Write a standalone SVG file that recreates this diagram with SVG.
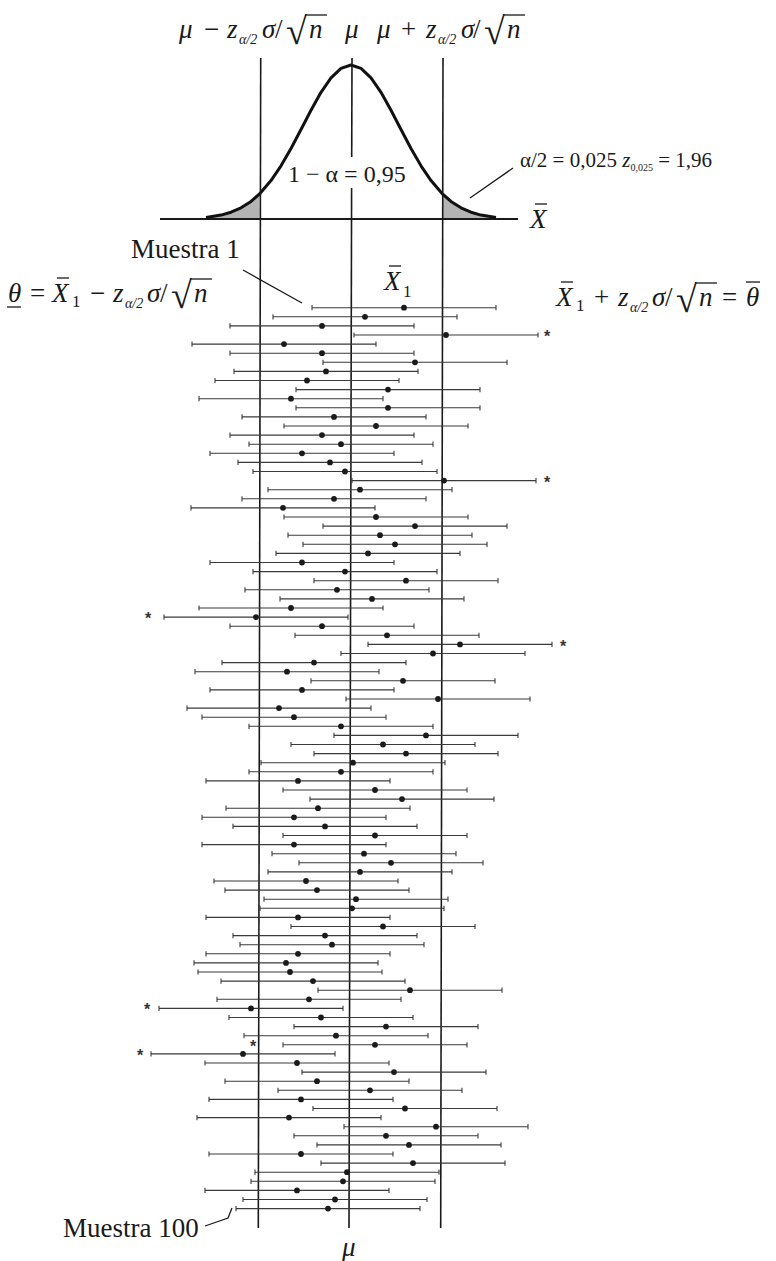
<svg xmlns="http://www.w3.org/2000/svg" xmlns:xlink="http://www.w3.org/1999/xlink" width="776" height="1261" viewBox="0 0 776 1261">
  <style>
    text { font-family: "Liberation Serif", "Times New Roman", serif; fill: #1a1a1a; }
    .m { font-size: 27px; }
    .i { font-style: italic; }
    .sub { font-size: 14px; font-style: italic; }
    .rad { font-size: 38px; font-style: normal; }
    .lbl { font-size: 27px; }
    .guide { stroke: #1a1a1a; stroke-width: 1.6; fill: none; }
    .thin { stroke: #1a1a1a; stroke-width: 1.3; fill: none; }
    .ci line { stroke: #3a3a3a; stroke-width: 1.1; }
    .ci circle { fill: #1a1a1a; }
    .star { font-size: 16px; font-family: "Liberation Sans", sans-serif; font-weight: bold; fill: #333; }
  </style>
  <defs>
    <!-- one confidence interval: bar of half-width z*sigma/sqrt(n), end ticks, sample mean dot -->
    <g id="ci" class="ci">
      <line x1="-92" y1="0" x2="92" y2="0"/>
      <line x1="-92" y1="-2.6" x2="-92" y2="2.6"/>
      <line x1="92" y1="-2.6" x2="92" y2="2.6"/>
      <circle cx="0" cy="0" r="2.9"/>
    </g>
  </defs>
  <rect width="776" height="1261" fill="#ffffff"/>

  <!-- sampling distribution of the mean -->
  <g id="curve">
    <path d="M206,219 L206,217.4 L221,215.1 L231,212.2 L241,207.8 L251,201.4 L259.5,194 L259.5,219 Z" fill="#b4b4b4"/>
    <path d="M442.5,219 L442.5,194 L451,201.4 L461,207.8 L471,212.2 L481,215.1 L496,217.4 L496,219 Z" fill="#b4b4b4"/>
    <line x1="160" y1="219" x2="518" y2="219" stroke="#1a1a1a" stroke-width="2"/>
    <path d="M206,217.4 L221,215.1 L231,212.2 L241,207.8 L251,201.4 L259.5,194 L271,180.6 L281,165.8 L291,148.5 L301,129.5 L311,110.2 L321,92.3 L331,77.8 L341,68.3 L351,65 L361,68.3 L371,77.8 L381,92.3 L391,110.2 L401,129.5 L411,148.5 L421,165.8 L431,180.6 L442.5,194 L451,201.4 L461,207.8 L471,212.2 L481,215.1 L496,217.4" fill="none" stroke="#111" stroke-width="3" stroke-linejoin="round"/>
  </g>

  <!-- limits mu - z sigma/sqrt(n), mu, mu + z sigma/sqrt(n) -->
  <g id="guides">
    <line class="guide" x1="260.7" y1="58" x2="258.3" y2="1228"/>
    <line class="guide" x1="352" y1="58" x2="351.7" y2="157"/>
    <line class="guide" x1="351.6" y1="188" x2="349" y2="1228"/>
    <line class="guide" x1="443" y1="58" x2="440.7" y2="1228"/>
  </g>

  <!-- top labels -->
  <g id="top-labels">
    <text class="m" y="38"><tspan x="179" class="i">μ</tspan><tspan x="204">−</tspan><tspan x="227" class="i">z</tspan><tspan x="239" dy="6" class="sub">α/2</tspan><tspan x="262" dy="-6" class="i">σ</tspan><tspan x="275">/</tspan></text>
    <text class="rad" x="286" y="44">√</text>
    <line class="thin" x1="305" y1="15" x2="327" y2="15"/>
    <text class="m i" x="309" y="38">n</text>
    <text class="m i" x="345" y="38">μ</text>
    <text class="m" y="38"><tspan x="377" class="i">μ</tspan><tspan x="401">+</tspan><tspan x="426" class="i">z</tspan><tspan x="438" dy="6" class="sub">α/2</tspan><tspan x="461" dy="-6" class="i">σ</tspan><tspan x="473">/</tspan></text>
    <text class="rad" x="484" y="44">√</text>
    <line class="thin" x1="503" y1="15" x2="525" y2="15"/>
    <text class="m i" x="507" y="38">n</text>
    <text x="288" y="182" style="font-size:24px">1 − α = 0,95</text>
    <line class="thin" x1="470" y1="198" x2="513" y2="168"/>
    <text x="520" y="167" style="font-size:21px">α/2 = 0,025 <tspan class="i">z</tspan><tspan dy="4" style="font-size:10px">0,025</tspan><tspan dy="-4"> = 1,96</tspan></text>
    <text class="m i" x="530" y="228">X</text>
    <line class="thin" x1="535" y1="204" x2="547" y2="204"/>
  </g>

  <!-- sample labels and interval end formulas -->
  <g id="side-labels">
    <text class="lbl" x="131" y="258">Muestra 1</text>
    <line class="thin" x1="243" y1="270" x2="302" y2="303"/>
    <text class="m i" x="384" y="290">X</text>
    <text x="403" y="297" style="font-size:17px">1</text>
    <line class="thin" x1="389" y1="266" x2="401" y2="266"/>
    <text class="m" y="302"><tspan x="8" class="i">θ</tspan><tspan x="30">=</tspan><tspan x="52" class="i">X</tspan><tspan x="72" dy="5" style="font-size:17px">1</tspan><tspan x="90" dy="-5">−</tspan><tspan x="113" class="i">z</tspan><tspan x="125" dy="6" class="sub">α/2</tspan><tspan x="147" dy="-6" class="i">σ</tspan><tspan x="160">/</tspan></text>
    <text class="rad" x="171" y="308">√</text>
    <line class="thin" x1="190" y1="279" x2="212" y2="279"/>
    <text class="m i" x="194" y="302">n</text>
    <line class="thin" x1="7" y1="307" x2="21" y2="307"/>
    <line class="thin" x1="57" y1="278" x2="69" y2="278"/>
    <text class="m" y="306"><tspan x="556" class="i">X</tspan><tspan x="576" dy="5" style="font-size:17px">1</tspan><tspan x="594" dy="-5">+</tspan><tspan x="618" class="i">z</tspan><tspan x="630" dy="6" class="sub">α/2</tspan><tspan x="652" dy="-6" class="i">σ</tspan><tspan x="665">/</tspan></text>
    <text class="rad" x="676" y="312">√</text>
    <line class="thin" x1="695" y1="283" x2="717" y2="283"/>
    <text class="m" y="306"><tspan x="699" class="i">n</tspan><tspan x="722">=</tspan><tspan x="746" class="i">θ</tspan></text>
    <line class="thin" x1="561" y1="282" x2="573" y2="282"/>
    <line class="thin" x1="746" y1="282" x2="760" y2="282"/>
    <text class="lbl" x="63" y="1237">Muestra 100</text>
    <polyline class="thin" points="205,1226 228,1218 232,1208"/>
    <text class="m i" x="342" y="1256">μ</text>
  </g>

  <!-- 100 sample intervals -->
  <g id="intervals">
    <use xlink:href="#ci" x="404" y="307.7"/>
    <use xlink:href="#ci" x="365" y="316.8"/>
    <use xlink:href="#ci" x="322" y="325.9"/>
    <use xlink:href="#ci" x="446" y="335.0"/>
    <use xlink:href="#ci" x="284" y="344.1"/>
    <use xlink:href="#ci" x="322" y="353.2"/>
    <use xlink:href="#ci" x="415" y="362.3"/>
    <use xlink:href="#ci" x="326" y="371.4"/>
    <use xlink:href="#ci" x="307" y="380.5"/>
    <use xlink:href="#ci" x="388" y="389.6"/>
    <use xlink:href="#ci" x="291" y="398.7"/>
    <use xlink:href="#ci" x="388" y="407.8"/>
    <use xlink:href="#ci" x="334" y="416.9"/>
    <use xlink:href="#ci" x="376" y="426.0"/>
    <use xlink:href="#ci" x="322" y="435.1"/>
    <use xlink:href="#ci" x="341" y="444.2"/>
    <use xlink:href="#ci" x="302" y="453.3"/>
    <use xlink:href="#ci" x="330" y="462.4"/>
    <use xlink:href="#ci" x="345" y="471.5"/>
    <use xlink:href="#ci" x="444" y="480.6"/>
    <use xlink:href="#ci" x="360" y="489.7"/>
    <use xlink:href="#ci" x="334" y="498.8"/>
    <use xlink:href="#ci" x="283" y="507.9"/>
    <use xlink:href="#ci" x="376" y="517.0"/>
    <use xlink:href="#ci" x="415" y="526.1"/>
    <use xlink:href="#ci" x="380" y="535.2"/>
    <use xlink:href="#ci" x="395" y="544.3"/>
    <use xlink:href="#ci" x="368" y="553.4"/>
    <use xlink:href="#ci" x="302" y="562.5"/>
    <use xlink:href="#ci" x="345" y="571.6"/>
    <use xlink:href="#ci" x="406" y="580.7"/>
    <use xlink:href="#ci" x="337" y="589.8"/>
    <use xlink:href="#ci" x="372" y="598.9"/>
    <use xlink:href="#ci" x="291" y="608.0"/>
    <use xlink:href="#ci" x="256" y="617.1"/>
    <use xlink:href="#ci" x="322" y="626.2"/>
    <use xlink:href="#ci" x="387" y="635.3"/>
    <use xlink:href="#ci" x="460" y="644.4"/>
    <use xlink:href="#ci" x="433" y="653.5"/>
    <use xlink:href="#ci" x="314" y="662.6"/>
    <use xlink:href="#ci" x="287" y="671.7"/>
    <use xlink:href="#ci" x="403" y="680.8"/>
    <use xlink:href="#ci" x="302" y="689.9"/>
    <use xlink:href="#ci" x="438" y="699.0"/>
    <use xlink:href="#ci" x="279" y="708.1"/>
    <use xlink:href="#ci" x="294" y="717.2"/>
    <use xlink:href="#ci" x="341" y="726.3"/>
    <use xlink:href="#ci" x="426" y="735.4"/>
    <use xlink:href="#ci" x="383" y="744.5"/>
    <use xlink:href="#ci" x="406" y="753.6"/>
    <use xlink:href="#ci" x="353" y="762.7"/>
    <use xlink:href="#ci" x="341" y="771.8"/>
    <use xlink:href="#ci" x="298" y="780.9"/>
    <use xlink:href="#ci" x="375" y="790.0"/>
    <use xlink:href="#ci" x="402" y="799.1"/>
    <use xlink:href="#ci" x="318" y="808.2"/>
    <use xlink:href="#ci" x="294" y="817.3"/>
    <use xlink:href="#ci" x="325" y="826.4"/>
    <use xlink:href="#ci" x="375" y="835.5"/>
    <use xlink:href="#ci" x="294" y="844.6"/>
    <use xlink:href="#ci" x="364" y="853.7"/>
    <use xlink:href="#ci" x="391" y="862.8"/>
    <use xlink:href="#ci" x="360" y="871.9"/>
    <use xlink:href="#ci" x="306" y="881.0"/>
    <use xlink:href="#ci" x="317" y="890.1"/>
    <use xlink:href="#ci" x="356" y="899.2"/>
    <use xlink:href="#ci" x="352" y="908.3"/>
    <use xlink:href="#ci" x="298" y="917.4"/>
    <use xlink:href="#ci" x="383" y="926.5"/>
    <use xlink:href="#ci" x="325" y="935.6"/>
    <use xlink:href="#ci" x="332" y="944.7"/>
    <use xlink:href="#ci" x="298" y="953.8"/>
    <use xlink:href="#ci" x="286" y="962.9"/>
    <use xlink:href="#ci" x="290" y="972.0"/>
    <use xlink:href="#ci" x="313" y="981.1"/>
    <use xlink:href="#ci" x="410" y="990.2"/>
    <use xlink:href="#ci" x="309" y="999.3"/>
    <use xlink:href="#ci" x="251" y="1008.4"/>
    <use xlink:href="#ci" x="321" y="1017.5"/>
    <use xlink:href="#ci" x="386" y="1026.6"/>
    <use xlink:href="#ci" x="336" y="1035.7"/>
    <use xlink:href="#ci" x="375" y="1044.8"/>
    <use xlink:href="#ci" x="243" y="1053.9"/>
    <use xlink:href="#ci" x="297" y="1063.0"/>
    <use xlink:href="#ci" x="394" y="1072.1"/>
    <use xlink:href="#ci" x="317" y="1081.2"/>
    <use xlink:href="#ci" x="370" y="1090.3"/>
    <use xlink:href="#ci" x="301" y="1099.4"/>
    <use xlink:href="#ci" x="405" y="1108.5"/>
    <use xlink:href="#ci" x="289" y="1117.6"/>
    <use xlink:href="#ci" x="436" y="1126.7"/>
    <use xlink:href="#ci" x="386" y="1135.8"/>
    <use xlink:href="#ci" x="409" y="1144.9"/>
    <use xlink:href="#ci" x="301" y="1154.0"/>
    <use xlink:href="#ci" x="413" y="1163.1"/>
    <use xlink:href="#ci" x="347" y="1172.2"/>
    <use xlink:href="#ci" x="343" y="1181.3"/>
    <use xlink:href="#ci" x="297" y="1190.4"/>
    <use xlink:href="#ci" x="335" y="1199.5"/>
    <use xlink:href="#ci" x="328" y="1208.6"/>
  </g>

  <!-- intervals that miss mu -->
  <g id="misses">
    <text class="star" x="547" y="342" text-anchor="middle">*</text>
    <text class="star" x="547" y="488" text-anchor="middle">*</text>
    <text class="star" x="563" y="652" text-anchor="middle">*</text>
    <text class="star" x="148" y="624" text-anchor="middle">*</text>
    <text class="star" x="147" y="1015" text-anchor="middle">*</text>
    <text class="star" x="253" y="1052" text-anchor="middle">*</text>
    <text class="star" x="140" y="1061" text-anchor="middle">*</text>
  </g>
</svg>
